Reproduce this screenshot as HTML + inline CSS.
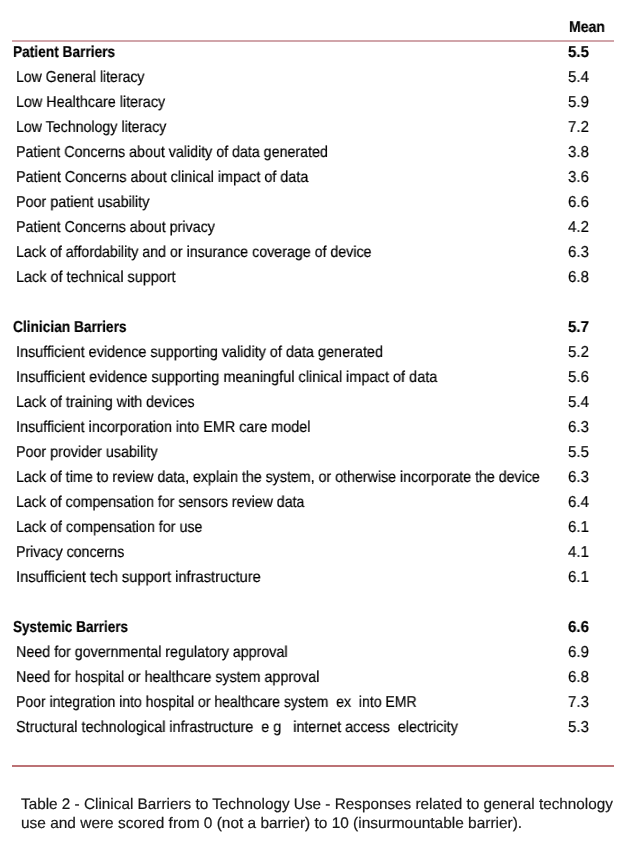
<!DOCTYPE html>
<html><head><meta charset="utf-8"><style>
html,body{margin:0;padding:0;background:#fff;}
body{width:630px;height:843px;position:relative;overflow:hidden;font-family:"Liberation Sans",sans-serif;color:#000;text-rendering:geometricPrecision;}
.t{position:absolute;white-space:nowrap;line-height:normal;transform-origin:0 0;will-change:transform;-webkit-text-stroke:0.2px currentColor;}
.line{position:absolute;left:12px;width:602px;height:2px;}
</style></head><body>
<div class="line" style="top:40px;background:#d1a5aa"></div>
<div class="line" style="top:765px;background:#bc7275"></div>
<div class="t" style="top:43.70px;font-size:15.8px;font-weight:bold;color:#000;left:12.53px;transform:scaleX(0.8681)">Patient Barriers</div>
<div class="t" style="top:68.70px;font-size:15.8px;font-weight:normal;color:#000;left:15.81px;transform:scaleX(0.8923)">Low General literacy</div>
<div class="t" style="top:93.70px;font-size:15.8px;font-weight:normal;color:#000;left:15.79px;transform:scaleX(0.9086)">Low Healthcare literacy</div>
<div class="t" style="top:118.70px;font-size:15.8px;font-weight:normal;color:#000;left:15.80px;transform:scaleX(0.8976)">Low Technology literacy</div>
<div class="t" style="top:143.70px;font-size:15.8px;font-weight:normal;color:#000;left:15.80px;transform:scaleX(0.9012)">Patient Concerns about validity of data generated</div>
<div class="t" style="top:168.70px;font-size:15.8px;font-weight:normal;color:#000;left:15.79px;transform:scaleX(0.9122)">Patient Concerns about clinical impact of data</div>
<div class="t" style="top:193.70px;font-size:15.8px;font-weight:normal;color:#000;left:15.79px;transform:scaleX(0.9096)">Poor patient usability</div>
<div class="t" style="top:218.70px;font-size:15.8px;font-weight:normal;color:#000;left:15.79px;transform:scaleX(0.9064)">Patient Concerns about privacy</div>
<div class="t" style="top:243.70px;font-size:15.8px;font-weight:normal;color:#000;left:15.80px;transform:scaleX(0.9003)">Lack of affordability and or insurance coverage of device</div>
<div class="t" style="top:268.70px;font-size:15.8px;font-weight:normal;color:#000;left:15.79px;transform:scaleX(0.9138)">Lack of technical support</div>
<div class="t" style="top:318.70px;font-size:15.8px;font-weight:bold;color:#000;left:13.40px;transform:scaleX(0.8677)">Clinician Barriers</div>
<div class="t" style="top:343.70px;font-size:15.8px;font-weight:normal;color:#000;left:15.79px;transform:scaleX(0.9130)">Insufficient evidence supporting validity of data generated</div>
<div class="t" style="top:368.70px;font-size:15.8px;font-weight:normal;color:#000;left:15.78px;transform:scaleX(0.9199)">Insufficient evidence supporting meaningful clinical impact of data</div>
<div class="t" style="top:393.70px;font-size:15.8px;font-weight:normal;color:#000;left:15.80px;transform:scaleX(0.9036)">Lack of training with devices</div>
<div class="t" style="top:418.70px;font-size:15.8px;font-weight:normal;color:#000;left:15.79px;transform:scaleX(0.9121)">Insufficient incorporation into EMR care model</div>
<div class="t" style="top:443.70px;font-size:15.8px;font-weight:normal;color:#000;left:15.79px;transform:scaleX(0.9058)">Poor provider usability</div>
<div class="t" style="top:468.70px;font-size:15.8px;font-weight:normal;color:#000;left:15.80px;transform:scaleX(0.8998)">Lack of time to review data, explain the system, or otherwise incorporate the device</div>
<div class="t" style="top:493.70px;font-size:15.8px;font-weight:normal;color:#000;left:15.80px;transform:scaleX(0.8975)">Lack of compensation for sensors review data</div>
<div class="t" style="top:518.70px;font-size:15.8px;font-weight:normal;color:#000;left:15.80px;transform:scaleX(0.9034)">Lack of compensation for use</div>
<div class="t" style="top:543.70px;font-size:15.8px;font-weight:normal;color:#000;left:15.80px;transform:scaleX(0.9000)">Privacy concerns</div>
<div class="t" style="top:568.70px;font-size:15.8px;font-weight:normal;color:#000;left:15.77px;transform:scaleX(0.9305)">Insufficient tech support infrastructure</div>
<div class="t" style="top:618.70px;font-size:15.8px;font-weight:bold;color:#000;left:13.40px;transform:scaleX(0.8560)">Systemic Barriers</div>
<div class="t" style="top:643.70px;font-size:15.8px;font-weight:normal;color:#000;left:15.80px;transform:scaleX(0.9044)">Need for governmental regulatory approval</div>
<div class="t" style="top:668.70px;font-size:15.8px;font-weight:normal;color:#000;left:15.80px;transform:scaleX(0.9042)">Need for hospital or healthcare system approval</div>
<div class="t" style="top:693.70px;font-size:15.8px;font-weight:normal;color:#000;left:15.81px;transform:scaleX(0.8895)">Poor integration into hospital or healthcare system&nbsp; ex&nbsp; into EMR</div>
<div class="t" style="top:718.70px;font-size:15.8px;font-weight:normal;color:#000;left:15.79px;transform:scaleX(0.9099)">Structural technological infrastructure&nbsp; e g&nbsp;&nbsp; internet access&nbsp; electricity</div>
<div class="t" style="top:18.70px;font-size:15.8px;font-weight:bold;color:#000;left:568.51px;transform:scaleX(0.8872)">Mean</div>
<div class="t" style="top:796.15px;font-size:15.3px;font-weight:normal;color:#1a1a1a;left:21.10px;transform:scaleX(1.0007)">Table 2 - Clinical Barriers to Technology Use - Responses related to general technology</div>
<div class="t" style="top:815.15px;font-size:15.3px;font-weight:normal;color:#1a1a1a;left:20.79px;transform:scaleX(1.0093)">use and were scored from 0 (not a barrier) to 10 (insurmountable barrier).</div>
<div class="t" style="top:43.70px;font-size:15.8px;font-weight:bold;left:568.3px;transform:scaleX(0.952)">5.5</div>
<div class="t" style="top:68.70px;font-size:15.8px;font-weight:normal;left:568.3px;transform:scaleX(0.952)">5.4</div>
<div class="t" style="top:93.70px;font-size:15.8px;font-weight:normal;left:568.3px;transform:scaleX(0.952)">5.9</div>
<div class="t" style="top:118.70px;font-size:15.8px;font-weight:normal;left:568.3px;transform:scaleX(0.952)">7.2</div>
<div class="t" style="top:143.70px;font-size:15.8px;font-weight:normal;left:568.3px;transform:scaleX(0.952)">3.8</div>
<div class="t" style="top:168.70px;font-size:15.8px;font-weight:normal;left:568.3px;transform:scaleX(0.952)">3.6</div>
<div class="t" style="top:193.70px;font-size:15.8px;font-weight:normal;left:568.3px;transform:scaleX(0.952)">6.6</div>
<div class="t" style="top:218.70px;font-size:15.8px;font-weight:normal;left:568.3px;transform:scaleX(0.952)">4.2</div>
<div class="t" style="top:243.70px;font-size:15.8px;font-weight:normal;left:568.3px;transform:scaleX(0.952)">6.3</div>
<div class="t" style="top:268.70px;font-size:15.8px;font-weight:normal;left:568.3px;transform:scaleX(0.952)">6.8</div>
<div class="t" style="top:318.70px;font-size:15.8px;font-weight:bold;left:568.3px;transform:scaleX(0.952)">5.7</div>
<div class="t" style="top:343.70px;font-size:15.8px;font-weight:normal;left:568.3px;transform:scaleX(0.952)">5.2</div>
<div class="t" style="top:368.70px;font-size:15.8px;font-weight:normal;left:568.3px;transform:scaleX(0.952)">5.6</div>
<div class="t" style="top:393.70px;font-size:15.8px;font-weight:normal;left:568.3px;transform:scaleX(0.952)">5.4</div>
<div class="t" style="top:418.70px;font-size:15.8px;font-weight:normal;left:568.3px;transform:scaleX(0.952)">6.3</div>
<div class="t" style="top:443.70px;font-size:15.8px;font-weight:normal;left:568.3px;transform:scaleX(0.952)">5.5</div>
<div class="t" style="top:468.70px;font-size:15.8px;font-weight:normal;left:568.3px;transform:scaleX(0.952)">6.3</div>
<div class="t" style="top:493.70px;font-size:15.8px;font-weight:normal;left:568.3px;transform:scaleX(0.952)">6.4</div>
<div class="t" style="top:518.70px;font-size:15.8px;font-weight:normal;left:568.3px;transform:scaleX(0.952)">6.1</div>
<div class="t" style="top:543.70px;font-size:15.8px;font-weight:normal;left:568.3px;transform:scaleX(0.952)">4.1</div>
<div class="t" style="top:568.70px;font-size:15.8px;font-weight:normal;left:568.3px;transform:scaleX(0.952)">6.1</div>
<div class="t" style="top:618.70px;font-size:15.8px;font-weight:bold;left:568.3px;transform:scaleX(0.952)">6.6</div>
<div class="t" style="top:643.70px;font-size:15.8px;font-weight:normal;left:568.3px;transform:scaleX(0.952)">6.9</div>
<div class="t" style="top:668.70px;font-size:15.8px;font-weight:normal;left:568.3px;transform:scaleX(0.952)">6.8</div>
<div class="t" style="top:693.70px;font-size:15.8px;font-weight:normal;left:568.3px;transform:scaleX(0.952)">7.3</div>
<div class="t" style="top:718.70px;font-size:15.8px;font-weight:normal;left:568.3px;transform:scaleX(0.952)">5.3</div>
</body></html>
